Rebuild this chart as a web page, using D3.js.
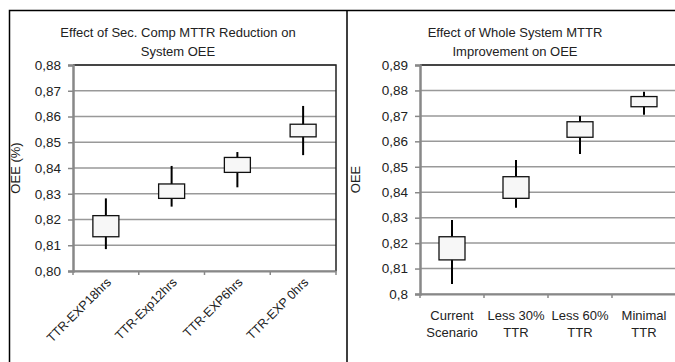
<!DOCTYPE html>
<html>
<head>
<meta charset="utf-8">
<script src="https://cdn.jsdelivr.net/npm/d3@7"></script>
<style>
  body { margin: 0; background: #fff; }
  text { font-family: "Liberation Sans Narrow", "Arial Narrow", "Liberation Sans", sans-serif; fill: #222; }
</style>
</head>
<body>
<div id="chart"></div>
<script>
// left chart data
var leftCats = ["TTR-EXP18hrs", "TTR-Exp12hrs", "TTR-EXP6hrs", "TTR-EXP 0hrs"];
var leftLow = [0.8085, 0.825, 0.8325, 0.845];
var leftQ1 = [0.8133, 0.8282, 0.8383, 0.8521];
var leftQ3 = [0.8215, 0.8338, 0.8441, 0.857];
var leftHigh = [0.8282, 0.8408, 0.8462, 0.8641];
var leftTicks = [0.80, 0.81, 0.82, 0.83, 0.84, 0.85, 0.86, 0.87, 0.88];

// right chart data
var rightCats = [["Current", "Scenario"], ["Less 30%", "TTR"], ["Less 60%", "TTR"], ["Minimal", "TTR"]];
var rightLow = [0.8039, 0.8339, 0.855, 0.8704];
var rightQ1 = [0.8134, 0.8376, 0.8616, 0.8736];
var rightQ3 = [0.8225, 0.8461, 0.8677, 0.8776];
var rightHigh = [0.8291, 0.8527, 0.870, 0.8795];
var rightTicks = [0.80, 0.81, 0.82, 0.83, 0.84, 0.85, 0.86, 0.87, 0.88, 0.89];

var svg = d3.select("#chart").append("svg")
    .attr("width", 675)
    .attr("height", 362);

// panel frames
svg.append("path")
    .attr("d", "M9.5,362 V10.5 H675 M347,10.5 V362")
    .attr("fill", "none")
    .attr("stroke", "#000")
    .attr("stroke-width", 1.5);

function drawPanel(opt) {
  var g = svg.append("g");
  var x = d3.scaleBand()
      .domain(d3.range(opt.cats.length))
      .range([opt.left, opt.right]);
  var y = d3.scaleLinear()
      .domain(opt.domain)
      .range([opt.bottom, opt.top]);

  // gridlines
  g.selectAll(".grid")
      .data(opt.ticks)
    .enter().append("line")
      .attr("x1", opt.left).attr("x2", opt.right)
      .attr("y1", function(d) { return y(d); })
      .attr("y2", function(d) { return y(d); })
      .attr("stroke", "#999")
      .attr("stroke-width", 1.5);

  // plot border top/right
  g.append("path")
      .attr("d", "M" + opt.left + "," + opt.top + " H" + opt.right + " V" + opt.bottom)
      .attr("fill", "none")
      .attr("stroke", "#222")
      .attr("stroke-width", 1.5);

  // y axis
  var yAxis = g.append("g")
      .attr("transform", "translate(" + opt.left + ",0)")
      .call(d3.axisLeft(y).tickValues(opt.ticks).tickSize(5).tickPadding(7).tickFormat(opt.fmt));
  yAxis.select(".domain").attr("stroke", "#888").attr("stroke-width", 2.5);
  yAxis.selectAll(".tick line").attr("stroke", "#888").attr("stroke-width", 1.5);
  yAxis.selectAll("text").style("font-size", "13.5px").attr("fill", "#222");

  // x axis
  var xAxis = g.append("g")
      .attr("transform", "translate(0," + opt.bottom + ")")
      .call(d3.axisBottom(x).tickSize(0).tickFormat(""));
  xAxis.select(".domain").attr("stroke", "#888").attr("stroke-width", 2);
  xAxis.selectAll(".xt")
      .data(d3.range(opt.cats.length + 1))
    .enter().append("line")
      .attr("x1", function(d) { return opt.left + d * x.step(); })
      .attr("x2", function(d) { return opt.left + d * x.step(); })
      .attr("y1", 0).attr("y2", 4)
      .attr("stroke", "#888").attr("stroke-width", 1.5);

  // whiskers
  g.selectAll(".whisker")
      .data(opt.cats)
    .enter().append("line")
      .attr("x1", function(d, i) { return x(i) + x.bandwidth() / 2; })
      .attr("x2", function(d, i) { return x(i) + x.bandwidth() / 2; })
      .attr("y1", function(d, i) { return y(opt.low[i]); })
      .attr("y2", function(d, i) { return y(opt.high[i]); })
      .attr("stroke", "#000")
      .attr("stroke-width", 2);

  // boxes
  g.selectAll(".box")
      .data(opt.cats)
    .enter().append("rect")
      .attr("x", function(d, i) { return x(i) + x.bandwidth() / 2 - 13; })
      .attr("width", 26)
      .attr("y", function(d, i) { return y(opt.q3[i]); })
      .attr("height", function(d, i) { return y(opt.q1[i]) - y(opt.q3[i]); })
      .attr("fill", "#f7f7f7")
      .attr("stroke", "#111")
      .attr("stroke-width", 1.3);

  // title
  g.append("text")
      .attr("x", opt.titleX)
      .attr("text-anchor", "middle")
      .style("font-size", "13px")
    .selectAll("tspan")
      .data(opt.title)
    .enter().append("tspan")
      .attr("x", opt.titleX)
      .attr("y", function(d, i) { return 37 + i * 19; })
      .text(function(d) { return d; });

  // y label
  g.append("text")
      .attr("transform", "translate(" + opt.ylabelX + "," + ((opt.top + opt.bottom) / 2) + ") rotate(-90)")
      .attr("text-anchor", "middle")
      .style("font-size", "13px")
      .text(opt.ylabel);

  return x;
}

var xl = drawPanel({
  cats: leftCats, low: leftLow, q1: leftQ1, q3: leftQ3, high: leftHigh,
  ticks: leftTicks, domain: [0.80, 0.88],
  left: 73, right: 336, top: 65, bottom: 271,
  fmt: function(d) { return d3.format(".2f")(d).replace(".", ","); },
  title: ["Effect of Sec. Comp MTTR Reduction  on", "System OEE"],
  titleX: 178, ylabel: "OEE (%)", ylabelX: 20
});

svg.append("g").selectAll("text")
    .data(leftCats)
  .enter().append("text")
    .attr("transform", function(d, i) {
      return "translate(" + (xl(i) + xl.bandwidth() / 2 + 6) + ",283) rotate(-45)";
    })
    .attr("text-anchor", "end")
    .style("font-size", "12.5px")
    .text(function(d) { return d; });

var xr = drawPanel({
  cats: rightCats, low: rightLow, q1: rightQ1, q3: rightQ3, high: rightHigh,
  ticks: rightTicks, domain: [0.80, 0.89],
  left: 420, right: 676, top: 65, bottom: 294,
  fmt: function(d) { return d3.format(".2~f")(d).replace(".", ","); },
  title: ["Effect of Whole System MTTR", "Improvement on  OEE"],
  titleX: 515, ylabel: "OEE", ylabelX: 360
});

svg.append("g").selectAll("text")
    .data(rightCats)
  .enter().append("text")
    .attr("text-anchor", "middle")
    .style("font-size", "13px")
  .selectAll("tspan")
    .data(function(d, i) { return d.map(function(s) { return {s: s, i: i}; }); })
  .enter().append("tspan")
    .attr("x", function(d) { return xr(d.i) + xr.bandwidth() / 2; })
    .attr("y", function(d, j) { return 320 + j * 17; })
    .text(function(d) { return d.s; });
</script>
</body>
</html>
